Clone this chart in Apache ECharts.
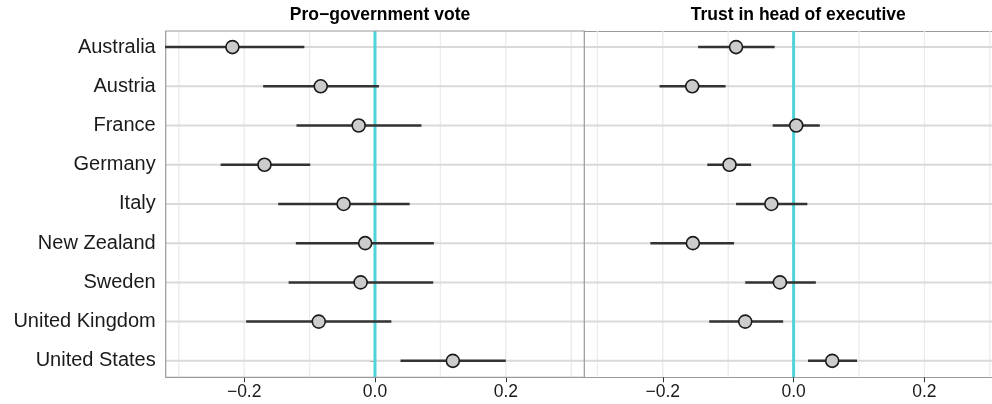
<!DOCTYPE html>
<html>
<head>
<meta charset="utf-8">
<script src="https://cdn.jsdelivr.net/npm/echarts@6/dist/echarts.min.js"></script>
<style>
html,body{margin:0;padding:0;background:#fff;overflow:hidden;}
#chart{width:992px;height:404px;}
</style>
</head>
<body>
<div id="chart"></div>
<script>
const countries = ['Australia','Austria','France','Germany','Italy','New Zealand','Sweden','United Kingdom','United States'];
const panelTitles = ['Pro\u2212government vote','Trust in head of executive'];
const voteEst = [-0.218,-0.083,-0.025,-0.169,-0.048,-0.015,-0.022,-0.086,0.119];
const voteLo  = [-0.328,-0.171,-0.120,-0.236,-0.148,-0.121,-0.132,-0.197,0.039];
const voteHi  = [-0.108,0.006,0.071,-0.099,0.053,0.090,0.089,0.025,0.200];
const trustEst = [-0.088,-0.155,0.004,-0.098,-0.034,-0.154,-0.021,-0.074,0.059];
const trustLo  = [-0.146,-0.205,-0.032,-0.132,-0.088,-0.219,-0.074,-0.129,0.022];
const trustHi  = [-0.029,-0.104,0.040,-0.065,0.021,-0.091,0.034,-0.016,0.097];
const xTicks = [-0.2, 0, 0.2];
const xGridValues = [-0.3,-0.2,-0.1,0,0.1,0.2,0.3];
const refLine = [0];

const FONT = '"Liberation Sans", Arial, Helvetica, sans-serif';
const BORDER = '#9a9a9a';
const rowIdx = countries.map((c,i)=>i+1);
const fmtX = v => (v < 0 ? '\u2212' : '') + Math.abs(v).toFixed(1);

const chart = echarts.init(document.getElementById('chart'), null, {renderer:'canvas'});

function xAxisDef(idx, max, showLine){
  return {
    type:'value', gridIndex: idx, min:-0.32, max:max, position:'bottom',
    axisLine:{show:showLine, onZero:false, lineStyle:{color:BORDER, width:1.2}},
    splitLine:{show:false},
    axisTick:{show:true, length:5, customValues: xTicks, lineStyle:{color:'#333', width:1}},
    axisLabel:{customValues: xTicks, formatter: fmtX, color:'#1a1a1a', fontSize:17.5, fontFamily:FONT, margin:6}
  };
}
function xTopLine(idx, max){
  return {
    type:'value', gridIndex: idx, min:-0.32, max:max, position:'top',
    axisLine:{show:true, onZero:false, lineStyle:{color:BORDER, width:1.2}},
    splitLine:{show:false}, axisTick:{show:false}, axisLabel:{show:false}
  };
}
function yAxisDef(idx, showLabels){
  return {
    type:'value', gridIndex: idx, min:0.59, max:9.42, inverse:true,
    axisLine:{show:false},
    splitLine:{show:false},
    axisTick:{show:showLabels, length:5, customValues: rowIdx, lineStyle:{color:'#333', width:1}},
    axisLabel:{show:showLabels, customValues: rowIdx, formatter: v => countries[Math.round(v)-1] || '', color:'#1a1a1a', fontSize:20, fontFamily:FONT, margin:10}
  };
}

function vGridSeries(idx){
  return {
    type:'custom', xAxisIndex: idx, yAxisIndex: idx, z:1, silent:true, clip:true,
    data: xGridValues.map(v=>[v]),
    renderItem(params, api){
      const cs = params.coordSys;
      const x = api.coord([api.value(0), 1])[0];
      return {type:'line', shape:{x1:x, y1:cs.y, x2:x, y2:cs.y+cs.height}, style:{stroke:'#ebebeb', lineWidth:1.3}};
    }
  };
}
function hGridSeries(idx){
  return {
    type:'custom', xAxisIndex: idx, yAxisIndex: idx, z:1, silent:true, clip:true,
    data: rowIdx.map(v=>[v]),
    renderItem(params, api){
      const cs = params.coordSys;
      const y = api.coord([0, api.value(0)])[1];
      return {type:'line', shape:{x1:cs.x, y1:y, x2:cs.x+cs.width, y2:y}, style:{stroke:'#d9d9d9', lineWidth:2}};
    }
  };
}
function refSeries(idx){
  return {
    type:'custom', xAxisIndex: idx, yAxisIndex: idx, z:2, silent:true, clip:true,
    data: refLine.map(v=>[v]),
    renderItem(params, api){
      const cs = params.coordSys;
      const x = api.coord([api.value(0), 1])[0];
      return {type:'line', shape:{x1:x, y1:cs.y, x2:x, y2:cs.y+cs.height}, style:{stroke:'#4fd3d8', lineWidth:3}};
    }
  };
}
function barSeries(idx, lo, hi){
  return {
    type:'custom', xAxisIndex: idx, yAxisIndex: idx, z:3, silent:true, clip:true,
    data: rowIdx.map((r,i)=>[lo[i], hi[i], r]),
    renderItem(params, api){
      const p1 = api.coord([api.value(0), api.value(2)]);
      const p2 = api.coord([api.value(1), api.value(2)]);
      return {type:'line', shape:{x1:p1[0], y1:p1[1], x2:p2[0], y2:p2[1]}, style:{stroke:'#333333', lineWidth:2.5}};
    }
  };
}
function pointSeries(idx, est){
  return {
    type:'scatter', xAxisIndex: idx, yAxisIndex: idx, z:4, silent:true,
    symbol:'circle', symbolSize:13,
    itemStyle:{color:'#cccccc', borderColor:'#1a1a1a', borderWidth:1.6, opacity:1},
    data: rowIdx.map((r,i)=>[est[i], r])
  };
}

const option = {
  animation:false,
  backgroundColor:'#ffffff',
  title: [
    {text: panelTitles[0], left:375, top:1, textAlign:'center', textStyle:{fontFamily:FONT, fontWeight:'bold', fontSize:17.5, color:'#000'}},
    {text: panelTitles[1], left:793.3, top:1, textAlign:'center', textStyle:{fontFamily:FONT, fontWeight:'bold', fontSize:17.5, color:'#000'}}
  ],
  grid: [
    {left:165.7, top:31, width:418.6, height:346.3, show:true, borderColor:BORDER, borderWidth:1.2, backgroundColor:'transparent', containLabel:false, z:3},
    {left:584.3, top:31, width:407.7, height:346.3, show:false, containLabel:false}
  ],
  xAxis: [xAxisDef(0, 0.32, false), xAxisDef(1, 0.3033, true), xTopLine(1, 0.3033)],
  yAxis: [yAxisDef(0, true), yAxisDef(1, false)],
  series: [
    vGridSeries(0), hGridSeries(0), refSeries(0), barSeries(0, voteLo, voteHi), pointSeries(0, voteEst),
    vGridSeries(1), hGridSeries(1), refSeries(1), barSeries(1, trustLo, trustHi), pointSeries(1, trustEst)
  ]
};
chart.setOption(option);
</script>
</body>
</html>
